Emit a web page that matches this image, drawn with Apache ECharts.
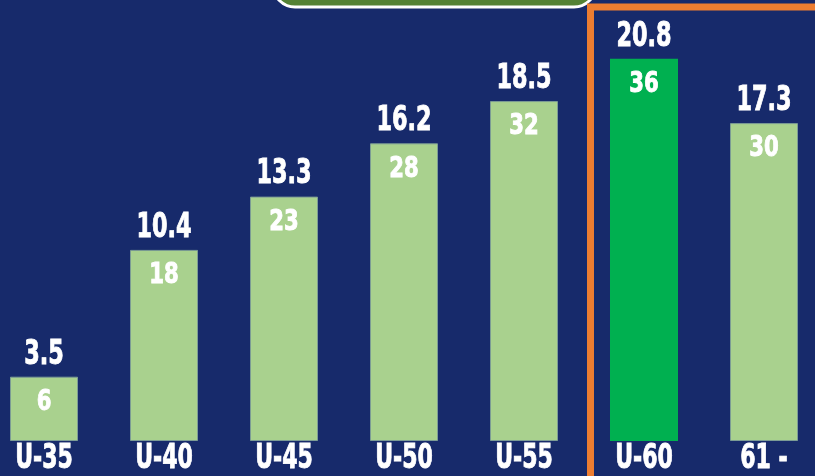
<!DOCTYPE html>
<html>
<head>
<meta charset="utf-8">
<script src="https://cdn.jsdelivr.net/npm/echarts@6/dist/echarts.min.js"></script>
<style>
  html, body { margin: 0; padding: 0; background: #172a6b; }
  #chart { width: 815px; height: 476px; }
</style>
</head>
<body>
<div id="chart"></div>
<script>
// Age groups along the x axis
const categories = ['U-35', 'U-40', 'U-45', 'U-50', 'U-55', 'U-60', '61 -'];
// Share of the total (%) per age group: bar height and the label above each bar
const shares = [3.5, 10.4, 13.3, 16.2, 18.5, 20.8, 17.3];
// Head count per age group: label inside each bar
const counts = [6, 18, 23, 28, 32, 36, 30];
// Group that gets the highlight colour
const highlighted = 'U-60';

const FONT_FAMILY = '"DejaVu Sans Condensed", "DejaVu Sans", sans-serif';
const LIGHT = '#a9d18e';
const STRONG = '#00b050';

const chart = echarts.init(document.getElementById('chart'));

const barData = shares.map((v, i) => {
  const hot = categories[i] === highlighted;
  return {
    value: v,
    itemStyle: hot
      ? { color: STRONG, borderWidth: 0 }
      : { color: LIGHT, borderColor: '#7c9c95', borderWidth: 1 }
  };
});

// Heavy condensed text, squeezed horizontally around its own centre
function tallText(text, x, y, size, squeeze) {
  return {
    type: 'text',
    x: x,
    y: y,
    scaleX: squeeze,
    style: {
      text: text,
      fill: '#ffffff',
      stroke: '#ffffff',
      lineWidth: 0.9,
      font: 'bold ' + size + 'px ' + FONT_FAMILY,
      align: 'center',
      verticalAlign: 'middle'
    }
  };
}

// Value, count and category labels, placed from the same data via the axes
function renderLabels(params, api) {
  const idx = api.value(0);
  const top = api.coord([idx, api.value(1)]);
  const base = api.coord([idx, 0]);
  return {
    type: 'group',
    children: [
      tallText(String(shares[idx]), top[0], top[1] - 22, 34, 0.73),
      tallText(String(counts[idx]), top[0], top[1] + 26, 28, 0.84),
      tallText(categories[idx], base[0], base[1] + 18, 34, 0.72)
    ]
  };
}

chart.setOption({
  backgroundColor: '#172a6b',
  animation: false,
  grid: { left: 44, right: 51, top: 0, bottom: 35, containLabel: false },
  xAxis: {
    type: 'category',
    data: categories,
    boundaryGap: false,
    axisLine: { show: false },
    axisTick: { show: false },
    axisLabel: { show: false }
  },
  yAxis: {
    type: 'value',
    min: 0,
    max: 24,
    show: false,
    splitLine: { show: false }
  },
  series: [
    {
      name: 'share',
      type: 'bar',
      barWidth: 68,
      data: barData,
      z: 3
    },
    {
      name: 'labels',
      type: 'custom',
      clip: false,
      z: 5,
      silent: true,
      encode: { x: 0, y: 1 },
      data: shares.map((v, i) => [i, v, counts[i]]),
      renderItem: renderLabels
    }
  ],
  graphic: [
    {
      type: 'rect',
      z: 10,
      shape: { x: 273, y: -40, width: 323, height: 47, r: 22 },
      style: { fill: '#548235', stroke: '#ffffff', lineWidth: 3 }
    },
    {
      type: 'rect',
      z: 10,
      shape: { x: 590.5, y: 7, width: 400, height: 600 },
      style: { fill: 'none', stroke: '#ed7d31', lineWidth: 7 }
    }
  ]
});
</script>
</body>
</html>
